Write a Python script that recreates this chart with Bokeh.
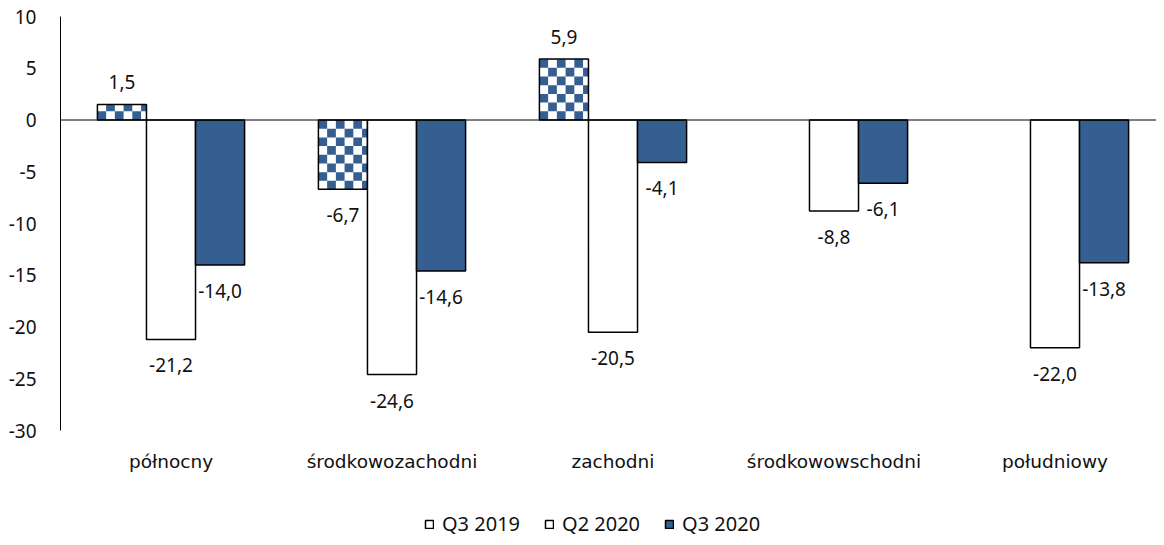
from bokeh.plotting import figure
from bokeh.models import (ColumnDataSource, Range1d, FixedTicker, Span, Legend, LegendItem,
                          LabelSet)
from bokeh.core.properties import value
from bokeh.embed import file_html
from bokeh.resources import INLINE
import math

regions = ["północny", "środkowozachodni", "zachodni", "środkowowschodni", "południowy"]
series_names = ["Q3 2019", "Q2 2020", "Q3 2020"]
q3_2019 = [1.5, -6.7, 5.9, float("nan"), float("nan")]
q2_2020 = [-21.2, -24.6, -20.5, -8.8, -22.0]
q3_2020 = [-14.0, -14.6, -4.1, -6.1, -13.8]
y_ticks = [10, 5, 0, -5, -10, -15, -20, -25, -30]
y_tick_labels = ["10", "5", "0", "-5", "-10", "-15", "-20", "-25", "-30"]

BLUE = "#365F91"
TXT = "#111111"
NUM_FONT = "Noto Sans"
CAT_FONT = "DejaVu Sans"

Y_MAX, Y_MIN = 10, -30
# the frame extends below the axis range to hold category labels and legend
FRAME_PX = 521
AXIS_PX = 414
y_start = Y_MAX - (Y_MAX - Y_MIN) * FRAME_PX / AXIS_PX

# plot frame is 1096 px wide; categories are 221 px apart
x_end = -0.5 + 1096 / 221

p = figure(width=1156, height=537, x_range=Range1d(-0.5, x_end), y_range=Range1d(y_start, Y_MAX),
           output_backend="svg", toolbar_location=None, x_axis_location=None,
           min_border_left=60, min_border_right=0, min_border_top=16, min_border_bottom=0)
p.outline_line_color = None
p.xgrid.visible = False
p.ygrid.visible = False
p.background_fill_color = "white"

W = 0.222
xs = list(range(len(regions)))
offsets = [-W, 0.0, W]

def valid(v):
    return v is not None and not (isinstance(v, float) and math.isnan(v))

# Q3 2019: white bar + checker cells + outline
x_a = [x + offsets[0] for x in xs]
src_a = ColumnDataSource(dict(x=x_a, top=q3_2019))
p.vbar(x="x", top="top", bottom=0, width=W, source=src_a, fill_color="white", line_color=None)

cell_dx, cell_dy = 0.0395, 0.84
cells = dict(left=[], right=[], top=[], bottom=[])
for xc, v in zip(x_a, q3_2019):
    if not valid(v):
        continue
    x0, x1 = xc - W / 2, xc + W / 2
    sgn = 1 if v >= 0 else -1
    n_cols = math.ceil(W / cell_dx)
    n_rows = math.ceil(abs(v) / cell_dy)
    for j in range(n_cols):
        l = x0 + j * cell_dx
        r = min(l + cell_dx, x1)
        for k in range(n_rows):
            if (j + k) % 2:
                continue
            a = k * cell_dy
            b = min((k + 1) * cell_dy, abs(v))
            cells["left"].append(l); cells["right"].append(r)
            cells["bottom"].append(sgn * a); cells["top"].append(sgn * b)
p.quad(left="left", right="right", top="top", bottom="bottom", source=ColumnDataSource(cells),
       fill_color=BLUE, line_color=None)
r1 = p.vbar(x="x", top="top", bottom=0, width=W, source=src_a, fill_color="white", fill_alpha=0,
            line_color="black", line_width=1.5)

src_b = ColumnDataSource(dict(x=[x + offsets[1] for x in xs], top=q2_2020))
r2 = p.vbar(x="x", top="top", bottom=0, width=W, source=src_b,
            fill_color="white", line_color="black", line_width=1.5)
src_c = ColumnDataSource(dict(x=[x + offsets[2] for x in xs], top=q3_2020))
r3 = p.vbar(x="x", top="top", bottom=0, width=W, source=src_c,
            fill_color=BLUE, line_color="black", line_width=1.5)

p.add_layout(Span(location=0, dimension="width", line_color="black", line_width=1))

def fmt(v):
    return f"{v:.1f}".replace(".", ",")

for vals, off in zip((q3_2019, q2_2020, q3_2020), offsets):
    pos = dict(x=[], y=[], t=[])
    neg = dict(x=[], y=[], t=[])
    for x, v in zip(xs, vals):
        if not valid(v):
            continue
        d = pos if v >= 0 else neg
        d["x"].append(x + off); d["y"].append(v); d["t"].append(fmt(v))
    for d, yo in ((pos, 22), (neg, -26)):
        if not d["x"]:
            continue
        p.add_layout(LabelSet(x="x", y="y", text="t", source=ColumnDataSource(d), y_offset=yo,
                              text_align="center", text_baseline="middle",
                              text_font=value(NUM_FONT), text_font_size="19px", text_color=TXT))

# category labels under the axis range
cat_src = ColumnDataSource(dict(x=xs, y=[Y_MIN] * len(xs), t=regions))
p.add_layout(LabelSet(x="x", y="y", text="t", source=cat_src, y_offset=-31,
                      text_align="center", text_baseline="middle",
                      text_font=value(CAT_FONT), text_font_size="18.5px", text_color=TXT))

# y axis
p.yaxis.ticker = FixedTicker(ticks=y_ticks)
p.yaxis.major_label_overrides = dict(zip(y_ticks, y_tick_labels))
p.yaxis.bounds = (Y_MIN, Y_MAX)
p.yaxis.axis_line_color = "black"
p.yaxis.axis_line_width = 1
p.yaxis.major_tick_line_color = None
p.yaxis.minor_tick_line_color = None
p.yaxis.major_label_standoff = 18
p.yaxis.major_label_text_font = NUM_FONT
p.yaxis.major_label_text_font_size = "19px"
p.yaxis.major_label_text_color = TXT

legend = Legend(items=[LegendItem(label=series_names[0], renderers=[r1]),
                       LegendItem(label=series_names[1], renderers=[r2]),
                       LegendItem(label=series_names[2], renderers=[r3])],
                orientation="horizontal", location=(364, 0),
                label_text_font=NUM_FONT, label_text_font_size="20px", label_text_color=TXT,
                glyph_width=10, glyph_height=10, label_standoff=8, spacing=24,
                border_line_color=None, background_fill_alpha=0,
                padding=2, margin=0)
p.add_layout(legend)

open("out.html", "w").write(file_html(p, INLINE))
